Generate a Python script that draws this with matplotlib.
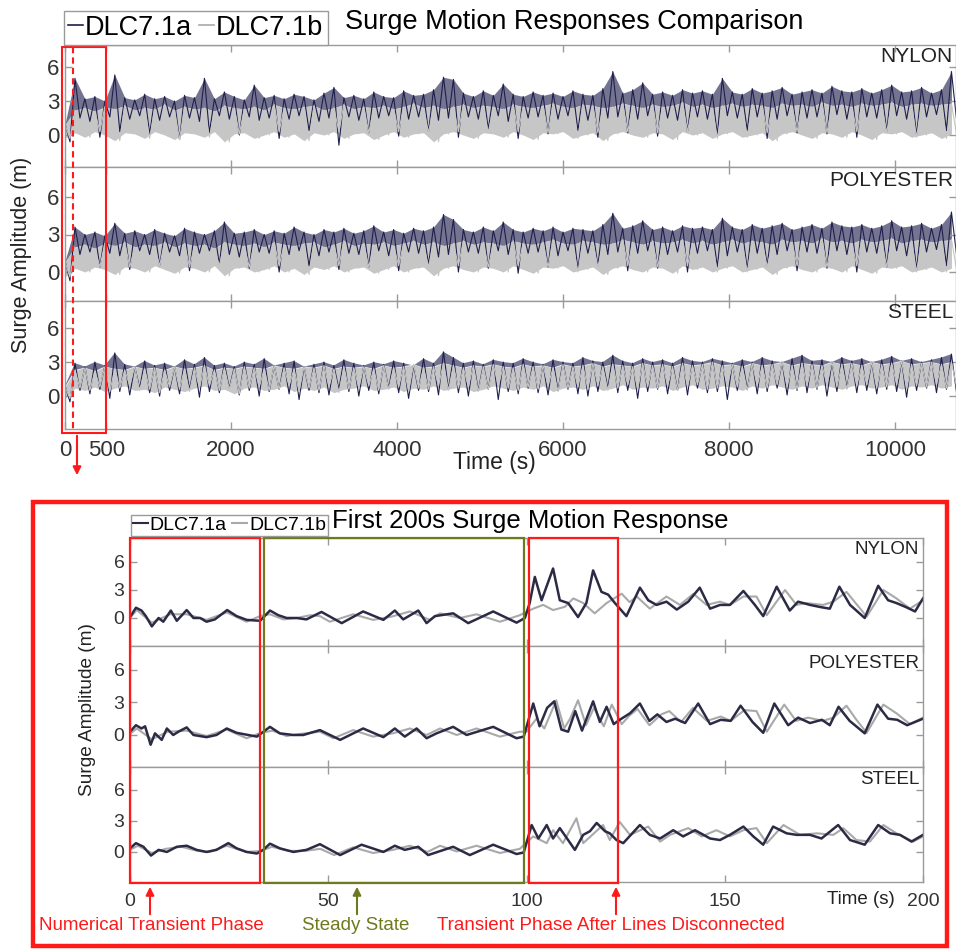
import numpy as np
import matplotlib
matplotlib.use("Agg")
import matplotlib.pyplot as plt
from matplotlib.lines import Line2D
from matplotlib.patches import Rectangle, FancyArrowPatch

plt.rcParams['font.family'] = ['Liberation Sans', 'DejaVu Sans']

# ---------------- data: full run (envelopes read every 120 s) ----------------
# NYLON
nyl_a_hi = [1.0, 5.0, 3.2, 3.4, 3.0, 5.3, 3.3, 3.1, 3.6, 3.2,
            3.4, 3.0, 3.5, 3.3, 5.0, 3.2, 3.8, 3.4, 3.1, 4.4,
            3.3, 3.5, 3.2, 3.6, 3.4, 3.1, 3.7, 4.2, 3.3, 3.5,
            3.2, 3.8, 3.4, 3.3, 3.9, 3.5, 3.6, 4.0, 5.1, 4.9,
            3.7, 3.4, 3.9, 3.5, 4.5, 3.6, 3.4, 3.8, 3.5, 3.7,
            3.4, 3.9, 3.6, 3.5, 4.1, 5.6, 3.7, 4.0, 4.6, 3.6,
            3.8, 3.5, 4.0, 3.7, 3.9, 3.6, 5.0, 3.8, 3.6, 4.1,
            3.7, 3.9, 4.2, 3.6, 3.8, 4.0, 3.7, 4.3, 3.9, 3.8,
            4.1, 3.7, 4.0, 4.4, 3.8, 3.9, 4.2, 3.7, 4.0, 5.6]
nyl_a_lo = [-0.6, 1.5, 1.2, -0.2, 1.6, 0.3, 1.4, 1.7, 0.1, 1.3,
            1.6, -0.4, 1.5, 1.2, 0.2, 1.7, 1.4, 0.0, 1.6, 1.3,
            1.5, -0.3, 1.4, 1.7, 0.4, 1.2, 1.5, -0.9, 1.6, 1.3,
            0.2, 1.5, 1.7, -0.1, 1.4, 1.6, 0.3, 1.3, 1.5, -0.2,
            1.6, 1.4, 0.5, 1.7, 1.2, -0.3, 1.5, 1.6, 0.1, 1.4,
            1.7, 0.4, 1.3, -0.2, 1.5, 1.6, 0.2, 1.4, 1.7, -0.1,
            1.5, 1.3, 0.3, 1.6, 1.4, 0.0, 1.7, 1.5, 0.4, 1.6,
            -0.3, 1.4, 1.7, 0.2, 1.5, 1.6, 0.1, 1.8, 1.4, -0.2,
            1.6, 1.5, 0.3, 1.7, 1.4, 0.0, 1.6, 1.8, 0.4, 1.5]
nyl_b_hi = [0.9, 2.2, 2.4, 2.1, 2.5, 2.3, 2.6, 2.2, 2.4, 2.3,
            2.7, 2.2, 2.5, 2.3, 2.4, 2.1, 2.6, 2.4, 2.3, 2.5,
            2.2, 2.7, 2.4, 2.3, 2.5, 2.6, 2.2, 2.4, 2.7, 2.3,
            2.5, 2.4, 2.6, 2.3, 2.5, 2.8, 2.4, 2.6, 2.3, 2.5,
            2.7, 2.4, 2.6, 2.5, 2.3, 2.7, 2.5, 2.4, 2.6, 2.8,
            2.5, 2.4, 2.7, 2.6, 2.4, 2.5, 2.8, 2.6, 2.4, 2.7,
            2.5, 2.6, 2.9, 2.5, 2.7, 2.4, 2.6, 2.8, 2.5, 2.7,
            2.6, 2.4, 2.8, 2.6, 2.7, 2.5, 2.9, 2.6, 2.7, 2.5,
            2.8, 2.6, 2.7, 2.9, 2.5, 2.7, 2.8, 2.6, 2.7, 2.8]
nyl_b_lo = [-0.3, 0.2, -0.2, 0.3, 0.0, -0.5, 0.2, 0.1, -0.3, 0.3,
            0.0, -0.4, 0.2, 0.1, -0.2, 0.3, -0.6, 0.1, 0.2, -0.3,
            0.0, 0.3, -0.2, 0.1, -0.5, 0.2, 0.0, 0.3, -0.3, 0.1,
            0.2, -0.4, 0.0, 0.3, -0.2, 0.1, 0.2, -0.6, 0.1, 0.3,
            0.0, -0.3, 0.2, 0.1, -0.2, 0.3, 0.0, -0.4, 0.2, 0.1,
            0.3, -0.3, 0.0, 0.2, -0.5, 0.1, 0.3, 0.0, -0.2, 0.2,
            0.1, -0.4, 0.3, 0.0, 0.2, -0.3, 0.1, 0.3, -0.2, 0.0,
            0.2, -0.5, 0.1, 0.3, 0.0, -0.3, 0.2, 0.1, -0.2, 0.3,
            0.0, -0.4, 0.2, 0.1, 0.3, -0.2, 0.0, 0.2, -0.3, 0.1]
# POLYESTER
pol_a_hi = [0.9, 3.6, 3.0, 3.2, 2.9, 3.9, 3.1, 3.3, 3.0, 3.4,
            3.1, 2.9, 3.5, 3.2, 3.0, 3.3, 4.0, 3.1, 3.2, 3.4,
            3.0, 3.3, 3.1, 3.6, 3.2, 3.0, 3.4, 3.2, 3.5, 3.1,
            3.3, 3.7, 3.2, 3.4, 3.1, 3.5, 3.3, 3.6, 4.6, 4.2,
            3.4, 3.2, 3.6, 3.3, 4.0, 3.4, 3.2, 3.5, 3.3, 3.6,
            3.2, 3.5, 3.4, 3.3, 3.8, 4.7, 3.5, 3.7, 4.1, 3.4,
            3.6, 3.3, 3.7, 3.5, 3.6, 3.4, 4.3, 3.6, 3.4, 3.8,
            3.5, 3.7, 3.9, 3.4, 3.6, 3.8, 3.5, 4.0, 3.7, 3.6,
            3.8, 3.5, 3.7, 4.1, 3.6, 3.7, 3.9, 3.5, 3.8, 4.8]
pol_a_lo = [-0.7, 1.4, 1.6, 0.4, 1.5, 1.3, 0.2, 1.7, 1.4, 0.5,
            1.6, 1.3, 0.1, 1.5, 1.7, 0.6, 1.4, 1.2, 0.3, 1.6,
            1.5, 0.0, 1.4, 1.7, 0.5, 1.3, 1.6, 0.2, 1.5, 1.4,
            0.4, 1.7, 1.3, 0.1, 1.6, 1.5, 0.6, 1.2, 1.4, 0.0,
            1.6, 1.5, 0.3, 1.7, 1.4, -0.1, 1.5, 1.6, 0.4, 1.3,
            1.7, 0.2, 1.5, 0.5, 1.4, 1.6, 0.1, 1.5, 1.7, 0.3,
            1.4, 1.6, 0.0, 1.5, 1.7, 0.4, 1.3, 1.6, 0.2, 1.5,
            0.5, 1.4, 1.7, 0.1, 1.6, 1.5, 0.3, 1.7, 1.4, 0.0,
            1.6, 1.5, 0.4, 1.7, 1.3, 0.2, 1.6, 1.8, 0.5, 1.5]
pol_b_hi = [0.8, 2.0, 2.2, 1.9, 2.3, 2.1, 2.4, 2.0, 2.2, 2.1,
            2.4, 2.0, 2.3, 2.1, 2.2, 1.9, 2.4, 2.2, 2.1, 2.3,
            2.0, 2.4, 2.2, 2.1, 2.3, 2.4, 2.0, 2.2, 2.5, 2.1,
            2.3, 2.2, 2.4, 2.1, 2.3, 2.5, 2.2, 2.4, 2.1, 2.3,
            2.5, 2.2, 2.4, 2.3, 2.1, 2.5, 2.3, 2.2, 2.4, 2.6,
            2.3, 2.2, 2.5, 2.4, 2.2, 2.3, 2.6, 2.4, 2.2, 2.5,
            2.3, 2.4, 2.6, 2.3, 2.5, 2.2, 2.4, 2.6, 2.3, 2.5,
            2.4, 2.2, 2.6, 2.4, 2.5, 2.3, 2.7, 2.4, 2.5, 2.3,
            2.6, 2.4, 2.5, 2.7, 2.3, 2.5, 2.6, 2.4, 2.5, 2.6]
pol_b_lo = [-0.4, 0.3, 0.0, 0.4, 0.2, -0.2, 0.4, 0.3, 0.0, 0.5,
            0.2, -0.1, 0.4, 0.3, 0.0, 0.5, -0.3, 0.3, 0.4, 0.0,
            0.2, 0.5, 0.0, 0.3, -0.2, 0.4, 0.2, 0.5, 0.0, 0.3,
            0.4, -0.1, 0.2, 0.5, 0.0, 0.3, 0.4, -0.3, 0.3, 0.5,
            0.2, 0.0, 0.4, 0.3, 0.0, 0.5, 0.2, -0.1, 0.4, 0.3,
            0.5, 0.0, 0.2, 0.4, -0.2, 0.3, 0.5, 0.2, 0.0, 0.4,
            0.3, -0.1, 0.5, 0.2, 0.4, 0.0, 0.3, 0.5, 0.0, 0.2,
            0.4, -0.2, 0.3, 0.5, 0.2, 0.0, 0.4, 0.3, 0.0, 0.5,
            0.2, -0.1, 0.4, 0.3, 0.5, 0.0, 0.2, 0.4, 0.0, 0.3]
# STEEL
stl_a_hi = [0.9, 2.9, 2.6, 3.0, 2.7, 3.8, 2.8, 2.6, 3.1, 2.7,
            2.9, 2.6, 3.2, 2.8, 3.4, 2.7, 2.9, 2.6, 3.0, 2.8,
            3.3, 2.7, 2.9, 3.1, 2.6, 2.8, 3.0, 2.7, 3.2, 2.9,
            2.7, 3.0, 2.8, 3.1, 2.9, 2.7, 3.3, 2.9, 3.9, 3.4,
            2.9, 3.1, 2.8, 3.2, 3.0, 2.9, 3.3, 3.0, 2.8, 3.2,
            3.0, 2.9, 3.4, 3.1, 3.0, 3.6, 3.1, 2.9, 3.3, 3.0,
            3.2, 2.9, 3.4, 3.1, 3.0, 3.3, 3.1, 2.9, 3.2, 3.0,
            3.4, 3.1, 3.0, 3.3, 3.6, 3.1, 3.2, 3.0, 3.4, 3.1,
            3.3, 3.0, 3.2, 3.5, 3.1, 3.3, 3.0, 3.2, 3.4, 3.7]
stl_a_lo = [-0.5, 0.5, 0.2, 0.6, -0.2, 0.4, 0.1, 0.7, 0.3, 0.0,
            0.5, 0.2, 0.6, -0.1, 0.4, 0.3, 0.7, 0.1, 0.5, 0.0,
            0.4, 0.6, 0.2, -0.3, 0.5, 0.3, 0.1, 0.6, 0.4, 0.0,
            0.5, 0.2, 0.7, 0.3, -0.2, 0.5, 0.4, 0.1, 0.6, 0.3,
            0.0, 0.5, 0.6, -0.3, 0.4, 0.2, 0.7, 0.3, 0.1, 0.5,
            0.6, 0.2, 0.0, 0.4, 0.7, 0.3, 0.5, -0.2, 0.4, 0.6,
            0.2, 0.5, 0.1, 0.7, 0.3, 0.4, -0.3, 0.5, 0.6, 0.2,
            0.4, 0.7, 0.1, 0.5, 0.3, 0.6, 0.0, 0.4, 0.7, 0.3,
            0.5, 0.2, 0.6, 0.4, -0.1, 0.5, 0.7, 0.3, 0.6, 0.4]
stl_b_hi = [0.8, 2.3, 2.5, 2.2, 2.6, 2.4, 2.3, 2.6, 2.4, 2.5,
            2.3, 2.6, 2.4, 2.5, 2.7, 2.3, 2.5, 2.4, 2.6, 2.5,
            2.4, 2.7, 2.5, 2.4, 2.6, 2.5, 2.7, 2.4, 2.6, 2.5,
            2.6, 2.4, 2.7, 2.5, 2.6, 2.8, 2.5, 2.6, 2.9, 2.7,
            2.5, 2.7, 2.6, 2.8, 2.6, 2.5, 2.8, 2.6, 2.7, 2.5,
            2.8, 2.6, 2.7, 2.9, 2.6, 2.8, 2.7, 2.6, 2.9, 2.7,
            2.8, 2.6, 2.9, 2.7, 2.8, 3.0, 2.7, 2.8, 2.6, 2.9,
            2.7, 2.8, 3.0, 2.7, 2.9, 2.8, 2.7, 3.0, 2.8, 2.9,
            2.7, 3.0, 2.8, 2.9, 3.1, 2.8, 2.9, 3.0, 2.8, 3.0]
stl_b_lo = [-0.2, 0.7, 0.5, 0.8, 0.4, 0.7, 0.9, 0.5, 0.6, 0.3,
            0.8, 0.6, 0.4, 0.7, 0.9, 0.5, 0.6, 0.2, 0.7, 0.8,
            0.5, 0.6, 0.9, 0.4, 0.7, 0.5, 0.8, 0.3, 0.6, 0.7,
            0.9, 0.5, 0.6, 0.8, 0.4, 0.7, 0.6, 0.9, 0.5, 0.7,
            0.8, 0.4, 0.6, 0.9, 0.7, 0.5, 0.8, 0.6, 0.9, 0.4,
            0.7, 0.8, 0.6, 0.9, 0.5, 0.7, 1.0, 0.6, 0.8, 0.7,
            0.9, 0.5, 0.8, 1.0, 0.6, 0.7, 0.9, 0.8, 0.5, 0.9,
            0.7, 1.0, 0.8, 0.6, 0.9, 0.7, 1.0, 0.8, 0.6, 0.9,
            1.0, 0.7, 0.8, 1.0, 0.6, 0.9, 0.8, 1.0, 0.7, 0.9]

# ---------------- data: first 200 s (turning points) ----------------
nyl_a_t = [0, 1.5, 2.9, 4.0, 5.5, 7.2, 8.4, 10.3, 11.8, 14.3,
           16.0, 17.7, 19.3, 21.4, 24.5, 26.9, 29.4, 32.8, 35.3, 37.4,
           39.5, 42.0, 44.5, 48.3, 53.4, 58.8, 63.9, 66.8, 68.9, 72.7,
           74.8, 76.9, 81.5, 85.3, 91.6, 97.5, 99.6, 100.8, 102.1, 103.8,
           106.7, 108.4, 110.5, 113.0, 115.1, 116.8, 118.9, 120.6, 122.3, 125.2,
           128.6, 130.7, 132.8, 135.3, 137.9, 140.8, 143.7, 146.3, 148.8, 151.3,
           154.7, 157.6, 159.7, 163.1, 166.4, 168.5, 171.5, 174.4, 176.5, 178.9,
           181.6, 185.3, 188.7, 191.2, 193.3, 195.8, 198.0, 200.0]
nyl_a_v = [0.1, 1.1, 0.8, 0.2, -0.9, 0.0, -0.4, 0.8, -0.3, 0.85,
           0.0, 0.0, -0.4, -0.15, 0.85, 0.2, -0.2, -0.3, 0.8, 0.3,
           0.0, 0.0, -0.15, 0.65, -0.55, 0.7, -0.2, 0.8, -0.15, 0.8,
           -0.55, 0.2, 0.5, -0.55, 0.7, -0.5, 0.0, 1.6, 4.4, 1.9,
           5.3, 1.9, 1.6, 0.1, 1.6, 5.1, 2.8, 2.5, 1.6, 0.2,
           3.25, 1.9, 1.4, 1.75, 0.9, 1.75, 3.25, 1.0, 1.4, 1.4,
           2.9, 1.4, 0.2, 3.35, 0.8, 1.75, 1.4, 1.15, 1.0, 3.35,
           1.4, 0.0, 3.45, 1.9, 1.6, 1.15, 0.7, 2.1]
nyl_b_t = [0, 1.7, 5.5, 10.1, 14.3, 19.3, 24.4, 29.4, 32.8, 35.3,
           38.7, 42.0, 45.5, 47.9, 50.4, 56.3, 61.3, 66.0, 70.6, 75.6,
           78.2, 83.2, 87.4, 93.3, 98.3, 101.7, 104.2, 106.7, 109.7, 111.8,
           114.3, 117.2, 120.2, 124.0, 126.0, 127.8, 131.1, 135.3, 138.7, 142.1,
           145.4, 148.8, 151.3, 154.7, 158.0, 160.6, 165.2, 168.1, 170.6, 174.8,
           177.4, 180.7, 185.8, 190.0, 193.3, 196.7, 200.0]
nyl_b_v = [0.0, 0.85, -0.5, 0.4, 0.4, -0.2, 0.6, -0.4, 0.2, 0.4,
           -0.15, 0.0, 0.3, 0.2, -0.4, 0.4, -0.2, 0.15, 0.7, -0.2,
           0.5, 0.0, 0.4, -0.4, 0.3, 1.0, 1.4, 0.85, 1.2, 2.1,
           1.6, 0.5, 1.6, 2.6, 1.7, 2.3, 1.0, 2.3, 1.4, 2.6,
           1.4, 1.75, 1.4, 2.3, 2.3, 0.3, 3.0, 1.4, 1.6, 1.4,
           1.75, 2.8, 0.15, 3.0, 2.1, 1.0, 1.9]

pol_a_t = [0, 1.5, 2.9, 3.8, 5.2, 6.3, 8.0, 9.3, 10.9, 12.2,
           14.3, 16.0, 19.3, 21.8, 24.4, 26.9, 32.0, 35.3, 37.8, 41.2,
           43.7, 47.9, 53.0, 58.8, 63.9, 66.8, 69.3, 72.3, 74.8, 77.3,
           81.5, 84.9, 91.6, 97.5, 99.3, 101.7, 103.3, 105.2, 107.0, 108.8,
           110.5, 112.3, 114.0, 116.8, 118.5, 120.2, 122.0, 123.5, 126.1, 128.6,
           131.0, 133.0, 135.3, 137.5, 140.0, 143.3, 146.3, 149.0, 151.5, 154.0,
           157.0, 159.7, 162.5, 166.0, 168.5, 171.5, 174.5, 176.5, 178.7, 181.5,
           185.3, 188.5, 191.2, 193.5, 196.0, 198.0, 200.0]
pol_a_v = [0.3, 0.9, 0.6, 0.8, -0.9, 0.15, -0.45, 0.6, 0.0, 0.3,
           0.7, 0.0, -0.2, 0.0, 0.6, 0.2, -0.15, 0.75, 0.15, 0.0,
           0.0, 0.45, -0.45, 0.6, -0.2, 0.6, -0.15, 0.6, -0.3, 0.15,
           0.75, 0.0, 0.75, -0.3, -0.15, 2.9, 0.8, 2.5, 3.1, 0.5,
           0.3, 2.2, 0.4, 3.1, 1.2, 2.6, 1.0, 1.4, 2.0, 2.9,
           1.3, 1.9, 1.2, 1.5, 1.1, 2.9, 1.0, 1.4, 1.3, 2.7,
           1.2, 0.2, 2.9, 0.9, 1.6, 1.1, 1.4, 0.9, 2.6, 1.3,
           0.15, 2.8, 1.5, 1.4, 0.9, 1.2, 1.5]
pol_b_t = [0, 1.7, 5.5, 9.5, 14.3, 19.3, 24.4, 29.4, 33.0, 36.0,
           39.5, 43.0, 47.9, 51.3, 56.3, 61.3, 66.3, 70.6, 74.8, 78.2,
           82.4, 87.4, 93.3, 98.3, 100.0, 102.5, 104.5, 107.5, 109.5, 111.0,
           113.0, 115.0, 117.0, 119.5, 121.5, 124.0, 126.0, 128.0, 131.0, 134.0,
           136.0, 139.0, 142.0, 145.5, 149.0, 151.5, 155.0, 158.0, 160.6, 165.0,
           168.0, 171.0, 174.8, 177.4, 180.7, 183.0, 185.8, 190.0, 193.3, 196.7,
           200.0]
pol_b_v = [0.1, 0.6, -0.4, 0.3, 0.4, -0.1, 0.5, -0.3, 0.2, 0.4,
           -0.1, 0.1, 0.3, -0.3, 0.45, -0.15, 0.15, 0.6, 0.0, 0.6,
           0.0, 0.6, -0.15, 0.3, 0.3, 1.5, 0.6, 3.2, 0.6, 1.5,
           3.2, 0.9, 2.5, 0.8, 2.8, 1.0, 1.8, 2.4, 0.9, 1.9,
           2.2, 1.2, 2.5, 1.3, 1.7, 1.3, 2.3, 2.2, 0.3, 2.8,
           1.3, 1.6, 1.3, 1.6, 2.7, 1.5, 0.2, 2.8, 2.0, 1.0,
           1.6]

stl_a_t = [0, 1.5, 3.4, 5.3, 7.2, 9.3, 11.8, 14.3, 16.8, 19.3,
           21.8, 24.8, 26.9, 29.4, 32.0, 33.6, 35.3, 37.8, 41.2, 44.5,
           47.9, 53.0, 58.4, 63.9, 66.8, 69.3, 72.7, 75.2, 81.5, 85.7,
           91.6, 97.5, 99.3, 101.3, 103.0, 105.1, 106.7, 108.4, 110.5, 112.2,
           114.3, 116.0, 117.7, 119.8, 121.0, 122.7, 124.4, 128.6, 131.1, 133.7,
           137.0, 139.5, 142.5, 146.3, 148.8, 151.3, 154.7, 157.2, 159.7, 162.2,
           165.6, 168.1, 171.5, 174.4, 178.6, 181.6, 185.3, 188.7, 191.7, 194.2,
           197.1, 200.0]
stl_a_v = [0.35, 0.85, 0.5, -0.35, 0.2, 0.0, 0.5, 0.6, 0.2, 0.0,
           0.2, 0.85, 0.35, 0.0, -0.15, 0.2, 0.8, 0.35, 0.0, 0.2,
           0.75, -0.3, 0.7, 0.0, 0.6, 0.2, 0.5, -0.3, 0.5, -0.3,
           0.7, -0.2, -0.05, 2.6, 1.3, 2.6, 1.3, 2.3, 1.15, 0.2,
           1.65, 2.0, 2.8, 2.0, 1.8, 1.15, 0.85, 2.6, 1.65, 1.3,
           2.1, 1.5, 2.1, 1.3, 1.15, 1.65, 2.45, 1.5, 0.7, 2.45,
           1.8, 1.65, 1.65, 1.3, 2.6, 1.15, 0.7, 2.6, 1.8, 1.65,
           1.0, 1.65]
stl_b_t = [0, 2.0, 5.5, 9.0, 13.0, 17.0, 20.0, 24.4, 29.4, 33.0,
           35.8, 40.0, 44.0, 48.0, 51.5, 56.3, 61.3, 66.3, 70.6, 75.0,
           78.2, 82.4, 87.4, 93.3, 98.3, 101.7, 105.1, 106.7, 109.2, 112.6,
           114.3, 119.3, 121.0, 123.5, 126.1, 130.7, 133.7, 136.2, 140.8, 144.2,
           147.9, 151.3, 154.7, 158.0, 160.6, 164.8, 169.0, 173.2, 177.4, 179.9,
           183.2, 186.6, 190.0, 193.3, 197.5, 200.0]
stl_b_v = [0.2, 0.6, -0.1, 0.3, 0.5, 0.1, 0.0, 0.6, 0.0, 0.1,
           0.5, 0.1, 0.1, 0.3, -0.3, 0.45, -0.1, 0.2, 0.6, 0.0,
           0.6, 0.05, 0.6, -0.1, 0.3, 1.5, 0.85, 2.1, 0.85, 3.25,
           0.85, 2.6, 1.15, 2.9, 1.65, 2.45, 1.0, 1.65, 2.3, 1.5,
           2.1, 1.5, 2.1, 2.3, 0.85, 2.6, 1.65, 1.8, 1.65, 2.3,
           1.15, 1.0, 2.6, 1.8, 1.0, 1.5]

materials = ['NYLON', 'POLYESTER', 'STEEL']
legend_labels = ['DLC7.1a', 'DLC7.1b']
top_xticks = [0, 500, 2000, 4000, 6000, 8000, 10000]
bot_xticks = [0, 50, 100, 150, 200]
yticks = [0, 3, 6]

# ---------------- layout helpers (pixels of a 956 x 949 canvas) ----------------
W, H = 956, 949
DARK = '#1f1f4d'
LIGHT = '#c6c6c6'
DARK2 = '#2b2b45'
LIGHT2 = '#a9a9a9'
SPINE = '#9a9a9a'
RED = '#ff1a1a'
OLIVE = '#6f7a1c'


def fx(p):
    return p / W


def fy(p):
    return 1 - p / H


def add_axes(x0, x1, y0, y1):
    return fig.add_axes([fx(x0), fy(y1), (x1 - x0) / W, (y1 - y0) / H])


def style(ax, size, xlim, ylim, xticks, show_x):
    ax.set_xlim(xlim)
    ax.set_ylim(ylim)
    ax.set_xticks(xticks)
    ax.set_yticks(yticks)
    ax.tick_params(direction='in', top=True, right=True, length=5, width=1,
                   color=SPINE, labelsize=size, labelcolor='#333333', pad=4)
    ax.tick_params(axis='x', pad=8)
    if not show_x:
        ax.tick_params(labelbottom=False)
    for s in ax.spines.values():
        s.set_color(SPINE)
        s.set_linewidth(1)


def frect(x0, y0, x1, y1, color, lw, **kw):
    fig.add_artist(Rectangle((fx(x0), fy(y1)), (x1 - x0) / W, (y1 - y0) / H,
                             transform=fig.transFigure, fill=False,
                             edgecolor=color, linewidth=lw, **kw))


def farrow(x, y0, y1, color):
    fig.add_artist(FancyArrowPatch((fx(x), fy(y0)), (fx(x), fy(y1)),
                                   transform=fig.transFigure, arrowstyle='-|>',
                                   mutation_scale=12, color=color, lw=1.5))


fig = plt.figure(figsize=(W / 100, H / 100), dpi=100)

# ---------------- top: whole simulation ----------------
top_rows = [(45, 167), (167, 301), (301, 429)]
top_ylims = [(-2.82, 7.94), (-2.32, 8.4), (-2.9, 8.38)]
top_series = [(nyl_a_hi, nyl_a_lo, nyl_b_hi, nyl_b_lo),
              (pol_a_hi, pol_a_lo, pol_b_hi, pol_b_lo),
              (stl_a_hi, stl_a_lo, stl_b_hi, stl_b_lo)]
top_label_y = [57, 180, 312]

for i, (r, yl, (ahi, alo, bhi, blo)) in enumerate(zip(top_rows, top_ylims, top_series)):
    ax = add_axes(65, W, r[0], r[1])
    t = 120.0 * np.arange(len(ahi))
    zt = np.column_stack([t, t + 60]).ravel()
    # dense part of DLC7.1a that shows above the DLC7.1b band
    ax.fill_between(t, bhi, ahi, where=np.array(ahi) > np.array(bhi),
                    interpolate=True, color=DARK, alpha=0.62, lw=0)
    ax.plot(zt, np.column_stack([ahi, alo]).ravel(), color=DARK, lw=0.8)
    ax.fill_between(t, blo, bhi, color=LIGHT, lw=0)
    ax.plot(zt, np.column_stack([bhi, blo]).ravel(), color=LIGHT, lw=0.8)
    style(ax, 16, (0, 10735), yl, top_xticks, i == 2)
    fig.text(fx(953), fy(top_label_y[i]), materials[i], ha='right', va='center',
             fontsize=15, color='#222222')

fig.legend(handles=[Line2D([], [], color=DARK, lw=1.2), Line2D([], [], color=LIGHT2, lw=1.2)],
           labels=legend_labels, loc='lower left', bbox_to_anchor=(fx(64), fy(45)),
           bbox_transform=fig.transFigure, ncol=2, fontsize=19.5, handlelength=0.55,
           handletextpad=0.08, columnspacing=0.25, borderpad=0.15, borderaxespad=0,
           fancybox=False, framealpha=1, edgecolor=SPINE)
fig.text(fx(345), fy(22), 'Surge Motion Responses Comparison', fontsize=19.5,
         va='center', ha='left')
fig.text(fx(494), fy(462), 'Time (s)', fontsize=16.5, ha='center', va='center', color='#222222')
fig.text(fx(22), fy(255), 'Surge Amplitude (m)', fontsize=15.5, rotation=90,
         ha='center', va='center', color='#222222')

# highlight of the first 500 s
frect(62, 47, 106, 433, RED, 1.5)
fig.add_artist(Line2D([fx(73), fx(73)], [fy(47), fy(433)], transform=fig.transFigure,
                      color=RED, lw=1.5, linestyle=(0, (3, 2))))
farrow(77, 433, 478, RED)

# ---------------- bottom: first 200 s ----------------
frect(33, 502, 947, 946, RED, 3.2)

bot_rows = [(538, 646), (646, 767), (767, 882)]
bot_ylims = [(-3.0, 8.57), (-2.95, 8.2), (-2.9, 8.2)]
bot_series = [(nyl_a_t, nyl_a_v, nyl_b_t, nyl_b_v),
              (pol_a_t, pol_a_v, pol_b_t, pol_b_v),
              (stl_a_t, stl_a_v, stl_b_t, stl_b_v)]
bot_label_y = [550, 663, 780]

for i, (r, yl, (ta, va, tb, vb)) in enumerate(zip(bot_rows, bot_ylims, bot_series)):
    ax = add_axes(130, 923, r[0], r[1])
    ax.plot(tb, vb, color=LIGHT2, lw=1.5, solid_joinstyle='round')
    ax.plot(ta, va, color=DARK2, lw=1.8, solid_joinstyle='round')
    style(ax, 14, (0, 200), yl, bot_xticks, i == 2)
    fig.text(fx(919), fy(bot_label_y[i]), materials[i], ha='right', va='center',
             fontsize=13.5, color='#222222')

fig.legend(handles=[Line2D([], [], color=DARK2, lw=1.5), Line2D([], [], color=LIGHT2, lw=1.5)],
           labels=legend_labels, loc='lower left', bbox_to_anchor=(fx(131), fy(536)),
           bbox_transform=fig.transFigure, ncol=2, fontsize=14, handlelength=0.75,
           handletextpad=0.1, columnspacing=0.3, borderpad=0.1, borderaxespad=0,
           fancybox=False, framealpha=1, edgecolor=SPINE)
fig.text(fx(332), fy(521), 'First 200s Surge Motion Response', fontsize=18.5,
         va='center', ha='left')
fig.text(fx(861), fy(900), 'Time (s)', fontsize=13.5, ha='center', va='center', color='#222222')
fig.text(fx(88), fy(710), 'Surge Amplitude (m)', fontsize=13.7, rotation=90,
         ha='center', va='center', color='#222222')

# phase boxes, arrows and notes
frect(130, 538, 260, 883, RED, 1.6)
frect(264, 538, 524, 883, OLIVE, 1.6)
frect(529, 538, 618, 883, RED, 1.6)
farrow(150, 917, 884, RED)
farrow(357, 917, 884, OLIVE)
farrow(616, 917, 884, RED)
fig.text(fx(151), fy(926), 'Numerical Transient Phase', fontsize=13.5, color=RED,
         ha='center', va='center')
fig.text(fx(356), fy(926), 'Steady State', fontsize=13.5, color=OLIVE,
         ha='center', va='center')
fig.text(fx(611), fy(926), 'Transient Phase After Lines Disconnected', fontsize=13.5,
         color=RED, ha='center', va='center')

fig.savefig('out.png', dpi=100)
